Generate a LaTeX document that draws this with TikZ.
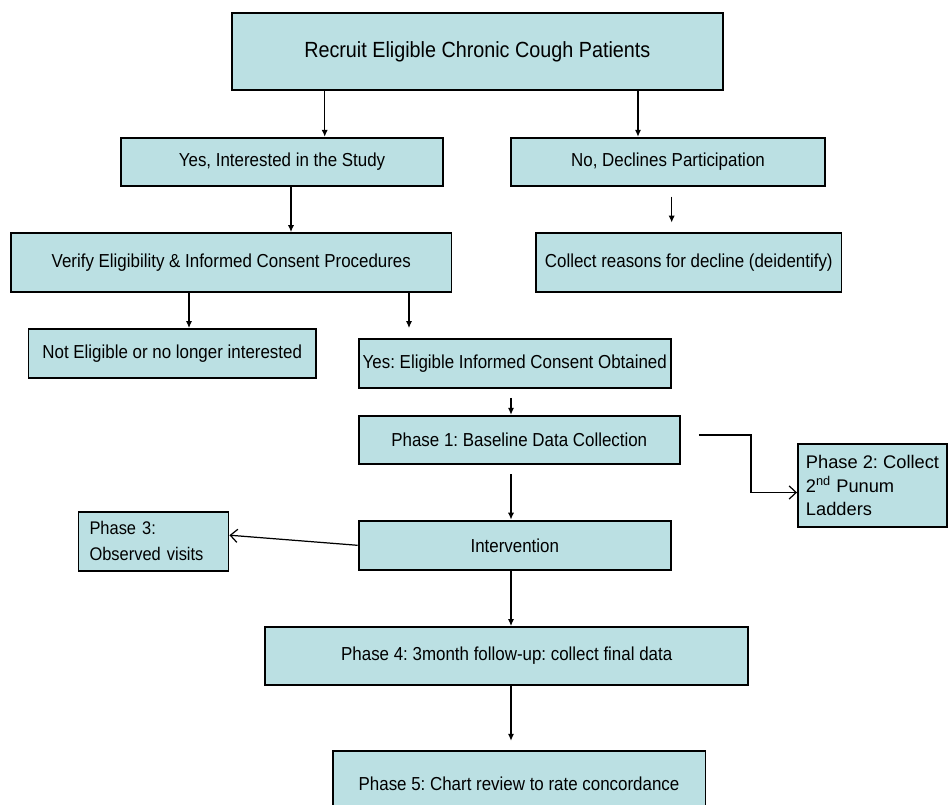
\documentclass[tikz,border=0pt]{standalone}
\usepackage{fontspec}
\setmainfont{Liberation Sans}
\newfontfamily\narrowfont{Liberation Sans}[FakeStretch=0.9]
\usetikzlibrary{calc, arrows.meta, positioning}
\definecolor{boxfill}{RGB}{187,224,227}
\frenchspacing

\begin{document}
\begin{tikzpicture}[x=0.02cm,y=-0.02cm,
    box/.style={draw=black,line width=1.1pt,fill=boxfill,inner sep=0pt,align=center,
        font=\narrowfont\fontsize{10.7}{13}\selectfont},
    arr/.style={-{Latex[length=4pt,width=3.6pt]},line width=0.7pt},
    oarr/.style={-{Straight Barb[length=4pt,width=7.5pt]},line width=0.7pt}]
        \useasboundingbox (0,0) rectangle (948,805);

        \node[box,minimum width=9.83cm,minimum height=1.53cm,font=\narrowfont\fontsize{12.5}{15}\selectfont] (recruit) at (477.3,51.7) {Recruit Eligible Chronic Cough Patients};
        \node[box,minimum width=6.44cm,minimum height=0.97cm] (yes) at (282,162) {Yes, Interested in the Study};
        \node[box,minimum width=6.28cm,minimum height=0.97cm] (no) at (668,162) {No, Declines Participation};
        \node[box,minimum width=8.81cm,minimum height=1.17cm] (verify) at (231.3,262.3) {Verify Eligibility \& Informed Consent Procedures};
        \node[box,minimum width=6.11cm,minimum height=1.17cm] (reasons) at (688.8,262.3) {Collect reasons for decline (deidentify)};
        \node[box,minimum width=5.75cm,minimum height=0.98cm] (noteligible) at (172.2,353.5) {Not Eligible or no longer interested};
        \node[box,minimum width=6.25cm,minimum height=0.98cm] (consent) at (514.8,363.5) {Yes: Eligible Informed Consent Obtained};
        \node[box,minimum width=6.43cm,minimum height=0.97cm] (phaseone) at (519.3,440) {Phase 1: Baseline Data Collection};
        \node[box,minimum width=2.98cm,minimum height=1.66cm,align=left,
            font=\fontsize{10.4}{13.6}\selectfont] (phasetwo) at (872.5,485.5) {Phase 2: Collect\\2\textsuperscript{nd} Punum\\Ladders};
        \node[box,minimum width=6.25cm,minimum height=0.99cm] (intervention) at (514.8,545.3) {Intervention};
        \node[box,minimum width=3.0cm,minimum height=1.18cm,align=left,text width=2.56cm,
            font=\narrowfont\fontsize{10.4}{14.7}\selectfont] (phasethree) at (153.5,541.2) {Phase 3:\\Observed visits};
        \node[box,minimum width=9.67cm,minimum height=1.16cm] (phasefour) at (506.7,656) {Phase 4: 3month follow-up: collect final data};
        \node[box,minimum width=7.46cm,minimum height=1.33cm] (phasefive) at (519,784) {Phase 5: Chart review to rate concordance};

        %arrows
        \draw[arr] (recruit.south -| 324.7,0) -- (yes.north -| 324.7,0);
        \draw[arr] (recruit.south -| 638,0) -- (no.north -| 638,0);
        \draw[arr] (yes.south -| 291,0) -- (verify.north -| 291,0);
        \draw[arr,shorten <=0.19cm,shorten >=0.19cm] (no.south -| 671.7,0) -- (reasons.north -| 671.7,0);
        \draw[arr] (verify.south -| 189,0) -- (noteligible.north -| 189,0);
        \draw[arr,shorten >=0.2cm] (verify.south -| 409,0) -- (consent.north -| 409,0);
        \draw[arr,shorten <=0.18cm] (consent.south -| 511,0) -- (phaseone.north -| 511,0);
        \draw[oarr] ([xshift=0.36cm,yshift=0.1cm]phaseone.east) -- ++(52,0) |- ([yshift=-0.14cm]phasetwo.west);
        \draw[arr,shorten <=0.18cm] (phaseone.south -| 511,0) -- (intervention.north -| 511,0);
        \draw[oarr] (intervention.west) -- ([yshift=0.12cm]phasethree.east);
        \draw[arr] (intervention.south -| 511,0) -- (phasefour.north -| 511,0);
        \draw[arr,shorten >=0.18cm] (phasefour.south -| 511,0) -- (phasefive.north -| 511,0);
        \end{tikzpicture}
\end{document}
